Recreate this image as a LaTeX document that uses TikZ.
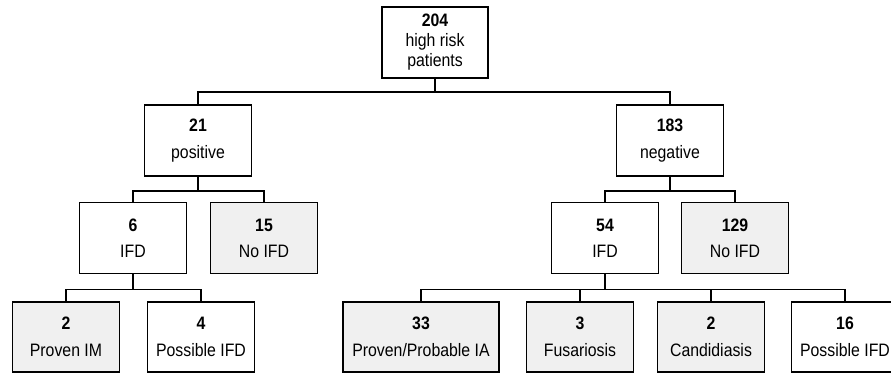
\documentclass[tikz,border=0pt]{standalone}
\usepackage{fontspec}
\setmainfont{Liberation Sans}[FakeStretch=0.88]
\usepackage{tikz}
\usetikzlibrary{positioning}
\definecolor{boxgrey}{rgb}{0.94,0.94,0.94}

\begin{document}
\begin{tikzpicture}[x=1pt,y=-1pt,
	box/.style={draw, line width=1.5pt, fill=white, align=center, inner sep=0pt,
		minimum width=107pt, minimum height=71pt, font=\fontsize{18}{20}\selectfont},
	greybox/.style={box, fill=boxgrey},
	link/.style={line width=1.5pt}]

	\useasboundingbox (0,0) rectangle (891,373);

	% top
	\node[box, minimum width=106pt] (root) at (435,42.5) {\textbf{204}\\high risk\\patients};

	% second row
	\node[box] (pos) at (198,140.5) {\textbf{21}\\[7pt]positive};
	\node[box] (neg) at (670,140.5) {\textbf{183}\\[7pt]negative};

	% third row
	\node[box] (ifdL) at (133,238) {\textbf{6}\\[6pt]IFD};
	\node[greybox] (noifdL) at (264,238) {\textbf{15}\\[6pt]No IFD};
	\node[box] (ifdR) at (605,238) {\textbf{54}\\[6pt]IFD};
	\node[greybox] (noifdR) at (735,238) {\textbf{129}\\[6pt]No IFD};

	% bottom row
	\node[greybox, minimum height=70pt] (im) at (66,337) {\textbf{2}\\[7pt]Proven IM};
	\node[box, minimum height=70pt] (possL) at (201,337) {\textbf{4}\\[7pt]Possible IFD};
	\node[greybox, minimum height=70pt, minimum width=156pt] (ia) at (421,337) {\textbf{33}\\[7pt]Proven/Probable IA};
	\node[greybox, minimum height=70pt] (fus) at (580,337) {\textbf{3}\\[7pt]Fusariosis};
	\node[greybox, minimum height=70pt] (cand) at (711,337) {\textbf{2}\\[7pt]Candidiasis};
	\node[box, minimum height=70pt] (possR) at (845,337) {\textbf{16}\\[7pt]Possible IFD};

	% connectors
	\draw[link] (root.south) -- ++(0,13) -| (pos.north);
	\draw[link] (root.south) -- ++(0,13) -| (neg.north);

	\draw[link] (pos.south) -- ++(0,14) -| (ifdL.north);
	\draw[link] (pos.south) -- ++(0,14) -| (noifdL.north);
	\draw[link] (neg.south) -- ++(0,14) -| (ifdR.north);
	\draw[link] (neg.south) -- ++(0,14) -| (noifdR.north);

	\draw[link] (ifdL.south) -- ++(0,15) -| (im.north);
	\draw[link] (ifdL.south) -- ++(0,15) -| (possL.north);
	\draw[link] (ifdR.south) -- ++(0,15) -| (ia.north);
	\draw[link] (ifdR.south) -- ++(0,15) -| (fus.north);
	\draw[link] (ifdR.south) -- ++(0,15) -| (cand.north);
	\draw[link] (ifdR.south) -- ++(0,15) -| (possR.north);

\end{tikzpicture}
\end{document}
